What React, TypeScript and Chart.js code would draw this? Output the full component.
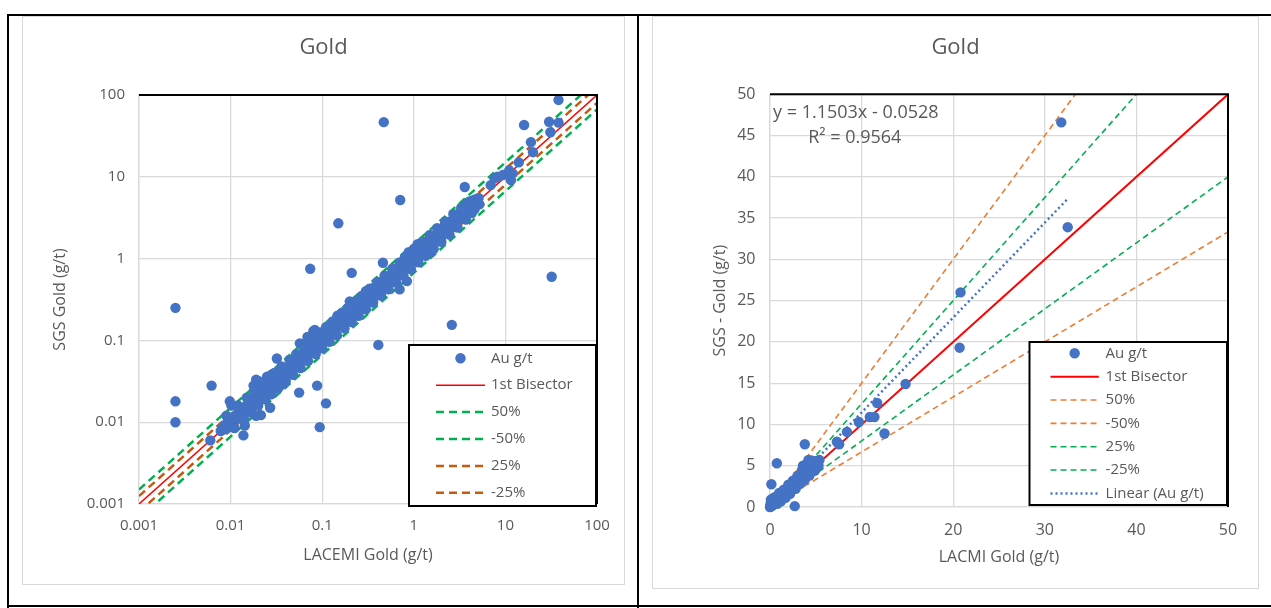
import React, { useEffect, useRef } from "react";
import { Chart, registerables } from "chart.js";

Chart.register(...registerables);

const FONT = "'Open Sans', 'Noto Sans', sans-serif";
const TEXT = "#595959";
const GRID = "#d9d9d9";
const BLUE = "#4472C4";

// ---------- Left chart (log-log) ----------
const logTicks = [0.001, 0.01, 0.1, 1, 10, 100];
const logTickLabels = ["0.001", "0.01", "0.1", "1", "10", "100"];

const logOutliers: number[][] = [
  [0.0025, 0.25], [0.0025, 0.018], [0.0025, 0.01], [0.0062, 0.028], [0.006, 0.006],
  [0.074, 0.75], [0.15, 2.7], [0.21, 0.67], [0.47, 46.6], [0.71, 5.2], [0.41, 0.088],
  [0.088, 0.028], [0.11, 0.017], [0.094, 0.0087], [0.056, 0.023], [0.0138, 0.0069],
  [0.0143, 0.0091], [2.6, 0.155], [32, 0.6], [16, 43], [3.6, 7.5], [0.7, 0.42],
  [0.84, 0.53], [0.46, 0.89], [0.032, 0.06], [0.083, 0.134], [0.027, 0.015],
  [0.019, 0.012], [0.0214, 0.0122], [0.0098, 0.018], [0.0102, 0.016],
];
const logLow: number[][] = [
  [0.0078, 0.0078], [0.0083, 0.0088], [0.0088, 0.0082], [0.009, 0.0095], [0.0095, 0.0101],
  [0.0098, 0.0092], [0.0102, 0.0108], [0.0106, 0.0112], [0.011, 0.0104], [0.0113, 0.0121],
  [0.0117, 0.0113], [0.012, 0.0128], [0.0125, 0.0119], [0.013, 0.0138], [0.0134, 0.0128],
  [0.0138, 0.0146], [0.0143, 0.0137], [0.0148, 0.0158], [0.0152, 0.0147], [0.0156, 0.0168],
  [0.016, 0.0155], [0.0165, 0.0178], [0.017, 0.016], [0.0174, 0.0196], [0.0178, 0.028],
  [0.018, 0.0172], [0.0185, 0.021], [0.019, 0.0186], [0.0195, 0.0235], [0.02, 0.032],
  [0.0202, 0.0196], [0.0207, 0.025], [0.021, 0.0214], [0.0215, 0.0198], [0.022, 0.027],
  [0.0225, 0.0235], [0.023, 0.021], [0.0235, 0.029], [0.024, 0.0245], [0.0245, 0.0225],
  [0.025, 0.036], [0.0255, 0.027], [0.026, 0.0255], [0.027, 0.031], [0.0275, 0.028],
  [0.028, 0.038], [0.029, 0.0275], [0.03, 0.033], [0.03, 0.03],
];
const logMid: number[][] = [
  [0.031, 0.034], [0.033, 0.031], [0.034, 0.037], [0.035, 0.043], [0.036, 0.035],
  [0.037, 0.04], [0.038, 0.045], [0.0375, 0.029], [0.04, 0.038], [0.041, 0.043],
  [0.043, 0.048], [0.044, 0.042], [0.046, 0.05], [0.047, 0.046], [0.049, 0.055],
  [0.05, 0.048], [0.052, 0.058], [0.053, 0.051], [0.055, 0.062], [0.056, 0.054],
  [0.058, 0.068], [0.059, 0.058], [0.06, 0.09], [0.061, 0.064], [0.063, 0.073],
  [0.064, 0.061], [0.066, 0.078], [0.067, 0.068], [0.069, 0.11], [0.07, 0.074],
  [0.072, 0.085], [0.073, 0.071], [0.075, 0.09], [0.077, 0.079], [0.079, 0.1],
  [0.08, 0.13], [0.081, 0.078], [0.083, 0.092], [0.085, 0.088], [0.088, 0.105],
  [0.09, 0.087], [0.092, 0.1], [0.095, 0.094], [0.097, 0.115], [0.057, 0.092],
  [0.019, 0.033], [0.029, 0.039],
];
const logHigh: number[][] = [
  [0.1, 0.1], [0.103, 0.118], [0.107, 0.104], [0.11, 0.13], [0.115, 0.112], [0.12, 0.14],
  [0.124, 0.12], [0.128, 0.15], [0.132, 0.13], [0.137, 0.16], [0.142, 0.138], [0.147, 0.2],
  [0.15, 0.155], [0.156, 0.18], [0.16, 0.158], [0.166, 0.22], [0.17, 0.17], [0.176, 0.2],
  [0.182, 0.18], [0.188, 0.24], [0.195, 0.195], [0.2, 0.3], [0.205, 0.22], [0.212, 0.205],
  [0.22, 0.26], [0.228, 0.23], [0.235, 0.3], [0.242, 0.24], [0.25, 0.28], [0.26, 0.255],
  [0.27, 0.32], [0.28, 0.275], [0.29, 0.31], [0.3, 0.4], [0.31, 0.3], [0.32, 0.35],
  [0.335, 0.33], [0.35, 0.4], [0.36, 0.36], [0.375, 0.45], [0.39, 0.38], [0.405, 0.44],
  [0.42, 0.41], [0.44, 0.5], [0.455, 0.45], [0.47, 0.55], [0.49, 0.48], [0.51, 0.56],
  [0.53, 0.52], [0.55, 0.62], [0.57, 0.56], [0.6, 0.68], [0.62, 0.61], [0.65, 0.74],
  [0.67, 0.66], [0.7, 0.8], [0.72, 0.72], [0.75, 0.9], [0.78, 0.78], [0.8, 1.05],
  [0.83, 0.84], [0.86, 0.8], [0.88, 1.2], [0.91, 0.95], [0.95, 0.93], [0.97, 1.1],
];
const logTop: number[][] = [
  [1.0, 1.3], [1.02, 1.0], [1.06, 1.12], [1.1, 1.5], [1.14, 1.1], [1.18, 1.3], [1.22, 1.2],
  [1.27, 1.45], [1.32, 1.6], [1.36, 1.3], [1.4, 1.45], [1.46, 1.7], [1.5, 1.4], [1.56, 1.2],
  [1.6, 1.65], [1.65, 1.55], [1.72, 1.85], [1.78, 1.75], [1.85, 2.05], [1.92, 1.85],
  [2.0, 2.25], [2.07, 2.0], [2.15, 2.5], [2.23, 2.2], [2.3, 2.7], [2.4, 2.4], [2.5, 2.85],
  [2.6, 2.6], [2.75, 3.1], [2.9, 2.9], [3.0, 3.4], [3.1, 3.1], [3.2, 3.7], [3.35, 3.3],
  [3.45, 4.0], [3.55, 3.5], [3.65, 4.5], [3.75, 3.9], [3.85, 4.8], [3.95, 4.2], [4.05, 5.0],
  [4.2, 4.5], [4.35, 5.1], [4.5, 4.6], [4.65, 5.3], [4.8, 4.9], [5.0, 5.0], [5.2, 4.6],
  [6.9, 7.9], [7.6, 9.6], [8.2, 10], [9.4, 10.5], [11, 12], [11.5, 9.1], [12, 11],
  [14, 15], [19, 26.5], [20, 20], [30, 47], [31, 35], [38, 46], [38, 87],
];
const logSpread: number[][] = [
  [0.009, 0.012], [0.011, 0.0085], [0.012, 0.016], [0.014, 0.011], [0.015, 0.02],
  [0.017, 0.013], [0.018, 0.024], [0.02, 0.016], [0.022, 0.03], [0.024, 0.019],
  [0.026, 0.034], [0.028, 0.022], [0.03, 0.04], [0.033, 0.026], [0.036, 0.048],
  [0.04, 0.032], [0.044, 0.058], [0.048, 0.038], [0.052, 0.068], [0.058, 0.046],
  [0.064, 0.085], [0.07, 0.056], [0.078, 0.1], [0.085, 0.068], [0.095, 0.125],
  [0.1, 0.08], [0.11, 0.145], [0.12, 0.096], [0.13, 0.17], [0.145, 0.115], [0.16, 0.21],
  [0.175, 0.14], [0.19, 0.25], [0.21, 0.168], [0.23, 0.3], [0.25, 0.2], [0.27, 0.35],
  [0.3, 0.24], [0.33, 0.43], [0.36, 0.29], [0.4, 0.52], [0.44, 0.35], [0.48, 0.62],
  [0.53, 0.42], [0.58, 0.75], [0.64, 0.51], [0.7, 0.9], [0.77, 0.62], [0.85, 1.1],
  [0.93, 0.74], [1.02, 1.32], [1.12, 0.9], [1.23, 1.6], [1.35, 1.08], [1.5, 1.95],
  [1.65, 1.32], [1.8, 2.35], [2.0, 1.6], [2.2, 2.85], [2.45, 1.96], [2.7, 3.5], [3.0, 2.4],
  [3.3, 4.2], [3.7, 3.0], [4.1, 4.4], [4.6, 4.0], [5.1, 5.5], [4.3, 3.6],
];
const logBisector: number[][] = [[0.001, 0.001], [100, 100]];
const logPlus50: number[][] = [[0.001, 0.0015], [100, 150]];
const logMinus50: number[][] = [[0.001, 0.000667], [100, 66.7]];
const logPlus25: number[][] = [[0.001, 0.00125], [100, 125]];
const logMinus25: number[][] = [[0.001, 0.0008], [100, 80]];

// ---------- Right chart (linear) ----------
const linCluster: number[][] = [
  [0, 0], [0.02, 0.05], [0.05, 0.02], [0.05, 0.3], [0.1, 0.1], [0.1, 0.6], [0.15, 0.2],
  [0.2, 0.8], [0.2, 0.15], [0.25, 0.3], [0.3, 0.4], [0.3, 0.2], [0.35, 0.5], [0.4, 0.35],
  [0.45, 0.6], [0.5, 0.45], [0.5, 0.8], [0.6, 0.55], [0.6, 0.9], [0.7, 0.7], [0.7, 1.0],
  [0.8, 0.75], [0.8, 1.1], [0.9, 0.9], [1.0, 1.2], [1.0, 0.9], [1.1, 1.1], [1.2, 1.4],
  [1.2, 1.0], [1.3, 1.3], [1.4, 1.6], [1.4, 1.2], [1.5, 1.5], [1.6, 1.8], [1.7, 1.6],
  [1.8, 2.0], [1.9, 1.8], [2.0, 2.2], [2.1, 2.0], [2.2, 2.5], [2.3, 2.3], [2.4, 2.7],
  [2.5, 2.5], [2.6, 3.0], [2.8, 2.9], [3.0, 3.3], [3.1, 3.1], [3.2, 3.6], [3.3, 3.4],
  [3.5, 3.9], [3.6, 3.6], [3.7, 4.3], [3.8, 4.0], [3.9, 4.8], [4.0, 4.4], [4.1, 5.0],
  [4.2, 4.6], [4.3, 5.2], [4.4, 4.5], [4.5, 5.1], [4.6, 4.8], [4.7, 5.3], [4.8, 5.0],
  [5.0, 5.5], [5.0, 4.9], [5.1, 5.2], [5.2, 5.6], [3.9, 5.1], [4.5, 5.6],
];
const linSpread: number[][] = [
  [0.1, 0.9], [0.3, 1.0], [0.5, 1.2], [0.8, 0.4], [1.0, 1.7], [1.2, 0.7], [1.5, 2.1],
  [1.7, 1.1], [2.0, 2.7], [2.2, 1.6], [2.5, 3.2], [2.8, 2.2], [3.0, 3.8], [3.3, 2.8],
  [3.5, 4.5], [3.8, 3.3], [4.0, 5.2], [4.3, 3.8], [4.6, 5.6], [4.9, 4.4], [5.3, 5.0],
  [5.4, 5.7], [3.6, 5.0], [4.2, 5.7],
];
const linOutliers: number[][] = [
  [0.15, 2.75], [0.75, 5.3], [2.7, 0.1], [3.8, 7.6], [7.3, 7.9], [7.55, 7.6], [8.4, 9.1],
  [9.7, 10.3], [10.9, 10.9], [11.4, 10.9], [11.7, 12.6], [12.5, 8.9], [14.8, 14.9],
  [20.7, 19.3], [20.8, 26.0], [32.5, 33.9], [31.8, 46.6],
];
const linBisector: number[][] = [[0, 0], [50, 50]];
const linPlus50: number[][] = [[0, 0], [50, 75]];
const linMinus50: number[][] = [[0, 0], [50, 33.33]];
const linPlus25: number[][] = [[0, 0], [50, 62.5]];
const linMinus25: number[][] = [[0, 0], [50, 40]];
const linTrend: number[][] = [[0.02, -0.03], [32.5, 37.33]];
const trendEquation = "y = 1.1503x - 0.0528";
const trendR2 = "R\u00B2 = 0.9564";

const toXY = (arr: number[][]) => arr.map(([x, y]) => ({ x, y }));

const boxLegendPlugin = {
  id: "boxLegend",
  afterDraw(chart: any, _a: any, opts: any) {
    if (!opts || !opts.x) return;
    const ctx = chart.ctx;
    ctx.save();
    ctx.fillStyle = "#ffffff";
    ctx.fillRect(opts.x, opts.y, opts.w, opts.h);
    ctx.lineWidth = 2;
    ctx.strokeStyle = "#000000";
    ctx.strokeRect(opts.x, opts.y, opts.w, opts.h);
    chart.data.datasets.forEach((ds: any, i: number) => {
      const cy = opts.row0 + i * opts.gap;
      if (ds.showLine) {
        ctx.beginPath();
        ctx.setLineDash(ds.borderDash || []);
        ctx.lineWidth = ds.borderWidth;
        ctx.strokeStyle = ds.borderColor;
        ctx.moveTo(opts.s0, cy);
        ctx.lineTo(opts.s1, cy);
        ctx.stroke();
        ctx.setLineDash([]);
      } else {
        ctx.beginPath();
        ctx.fillStyle = ds.backgroundColor;
        ctx.arc((opts.s0 + opts.s1) / 2, cy, 5.2, 0, Math.PI * 2);
        ctx.fill();
      }
      ctx.fillStyle = TEXT;
      ctx.font = `15px ${FONT}`;
      ctx.textBaseline = "middle";
      ctx.textAlign = "left";
      ctx.fillText(ds.label, opts.tx, cy);
    });
    ctx.restore();
  },
};

const frameTextPlugin = {
  id: "frameText",
  afterDatasetsDraw(chart: any, _a: any, opts: any) {
    const { left, right, top } = chart.chartArea;
    const ctx = chart.ctx;
    ctx.save();
    ctx.strokeStyle = "#000000";
    ctx.lineWidth = 2;
    ctx.beginPath();
    ctx.moveTo(left, top);
    ctx.lineTo(right, top);
    ctx.lineTo(right, chart.chartArea.bottom);
    ctx.stroke();
    if (opts && opts.texts) {
      ctx.fillStyle = TEXT;
      ctx.font = `18px ${FONT}`;
      ctx.textBaseline = "middle";
      ctx.textAlign = "left";
      opts.texts.forEach((t: any) => ctx.fillText(t.text, t.x, t.y));
    }
    ctx.restore();
  },
};

const lineDs = (label: string, data: number[][], color: string, width: number, dash: number[]) => ({
  label,
  data: toXY(data),
  showLine: true,
  borderColor: color,
  backgroundColor: color,
  borderWidth: width,
  borderDash: dash,
  pointRadius: 0,
  pointHoverRadius: 0,
  fill: false,
});

const axisCommon = () => ({
  grid: { color: GRID, lineWidth: 1.3, drawTicks: false },
  border: { color: GRID, width: 1.3 },
});

function leftConfig(): any {
  return {
    type: "scatter",
    data: {
      datasets: [
        {
          label: "Au g/t",
          data: toXY([...logLow, ...logMid, ...logHigh, ...logTop, ...logSpread, ...logOutliers]),
          backgroundColor: BLUE,
          borderColor: BLUE,
          pointRadius: 5.2,
          pointHoverRadius: 5.2,
          pointBorderWidth: 0,
          showLine: false,
          clip: false,
        },
        lineDs("1st Bisector", logBisector, "#FF0000", 1.5, []),
        lineDs("50%", logPlus50, "#00B050", 2.5, [8, 5]),
        lineDs("-50%", logMinus50, "#00B050", 2.5, [8, 5]),
        lineDs("25%", logPlus25, "#C55A11", 2.5, [8, 5]),
        lineDs("-25%", logMinus25, "#C55A11", 2.5, [8, 5]),
      ],
    },
    options: {
      responsive: false,
      animation: false,
      events: [],
      layout: { padding: { left: 28, right: 28, top: 18.5, bottom: 10 } },
      plugins: {
        legend: { display: false },
        tooltip: { enabled: false },
        title: {
          display: true,
          text: "Gold",
          color: TEXT,
          font: { family: FONT, size: 22, weight: "normal" },
          padding: { top: 0, bottom: 34.1 },
        },
        boxLegend: { x: 387, y: 329, w: 187, h: 161, row0: 342.3, gap: 26.9, s0: 414, s1: 463, tx: 469 },
        frameText: {},
      },
      scales: {
        x: {
          type: "logarithmic",
          min: 0.001,
          max: 100,
          ...axisCommon(),
          afterBuildTicks: (s: any) => {
            s.ticks = logTicks.map((v) => ({ value: v }));
          },
          afterFit: (s: any) => {
            s.height = 71;
          },
          ticks: {
            padding: 13,
            color: TEXT,
            font: { family: FONT, size: 15 },
            maxRotation: 0,
            autoSkip: false,
            callback: (v: number) => logTickLabels[logTicks.indexOf(v)] ?? "",
          },
          title: {
            display: true,
            text: "LACEMI Gold (g/t)",
            color: TEXT,
            font: { family: FONT, size: 16 },
            padding: { top: 0, bottom: 9.9 },
          },
        },
        y: {
          type: "logarithmic",
          min: 0.001,
          max: 100,
          ...axisCommon(),
          afterBuildTicks: (s: any) => {
            s.ticks = logTicks.map((v) => ({ value: v }));
          },
          afterFit: (s: any) => {
            s.width = 89;
          },
          ticks: {
            padding: 14,
            color: TEXT,
            font: { family: FONT, size: 15 },
            autoSkip: false,
            callback: (v: number) => logTickLabels[logTicks.indexOf(v)] ?? "",
          },
          title: {
            display: true,
            text: "SGS Gold (g/t)",
            color: TEXT,
            font: { family: FONT, size: 16 },
            padding: { top: 0.4, bottom: 0 },
          },
        },
      },
    },
    plugins: [frameTextPlugin, boxLegendPlugin],
  };
}

function rightConfig(): any {
  return {
    type: "scatter",
    data: {
      datasets: [
        {
          label: "Au g/t",
          data: toXY([...linCluster, ...linSpread, ...linOutliers]),
          backgroundColor: BLUE,
          borderColor: BLUE,
          pointRadius: 5.2,
          pointHoverRadius: 5.2,
          pointBorderWidth: 0,
          showLine: false,
          clip: false,
        },
        lineDs("1st Bisector", linBisector, "#FF0000", 2, []),
        lineDs("50%", linPlus50, "#ED7D31", 1.6, [6, 4]),
        lineDs("-50%", linMinus50, "#ED7D31", 1.6, [6, 4]),
        lineDs("25%", linPlus25, "#00B050", 1.6, [6, 4]),
        lineDs("-25%", linMinus25, "#00B050", 1.6, [6, 4]),
        lineDs("Linear (Au g/t)", linTrend, BLUE, 2.5, [2, 3]),
      ],
    },
    options: {
      responsive: false,
      animation: false,
      events: [],
      layout: { padding: { left: 31, right: 31, top: 18.5, bottom: 10 } },
      plugins: {
        legend: { display: false },
        tooltip: { enabled: false },
        title: {
          display: true,
          text: "Gold",
          color: TEXT,
          font: { family: FONT, size: 22, weight: "normal" },
          padding: { top: 0, bottom: 33.4 },
        },
        boxLegend: { x: 377.5, y: 326, w: 197.5, h: 163, row0: 337.3, gap: 23.35, s0: 398.5, s1: 446.8, tx: 453.6 },
        frameText: {
          texts: [
            { text: trendEquation, x: 121, y: 96.7 },
            { text: trendR2, x: 156.2, y: 121.5 },
          ],
        },
      },
      scales: {
        x: {
          type: "linear",
          min: 0,
          max: 50,
          ...axisCommon(),
          afterFit: (s: any) => {
            s.height = 72;
          },
          ticks: {
            stepSize: 10,
            padding: 13.4,
            color: TEXT,
            font: { family: FONT, size: 16 },
            maxRotation: 0,
          },
          title: {
            display: true,
            text: "LACMI Gold (g/t)",
            color: TEXT,
            font: { family: FONT, size: 16 },
            padding: { top: 0, bottom: 11.9 },
          },
        },
        y: {
          type: "linear",
          min: 0,
          max: 50,
          ...axisCommon(),
          afterFit: (s: any) => {
            s.width = 87;
          },
          ticks: {
            stepSize: 5,
            padding: 14.5,
            color: TEXT,
            font: { family: FONT, size: 16 },
          },
          title: {
            display: true,
            text: "SGS - Gold (g/t)",
            color: TEXT,
            font: { family: FONT, size: 16 },
            padding: { top: 27.4, bottom: 0 },
          },
        },
      },
    },
    plugins: [frameTextPlugin, boxLegendPlugin],
  };
}

function ChartCanvas({ make, left, top, width, height }: any) {
  const ref = useRef<HTMLCanvasElement | null>(null);
  useEffect(() => {
    if (!ref.current) return;
    const c = new Chart(ref.current, make());
    return () => c.destroy();
  }, []);
  return (
    <canvas
      ref={ref}
      width={width}
      height={height}
      style={{ position: "absolute", left, top, width, height }}
    />
  );
}

const line = (left: number, top: number, width: number, height: number) => (
  <div style={{ position: "absolute", left, top, width, height, background: "#000" }} />
);

const box = (left: number, top: number, width: number, height: number) => (
  <div
    style={{
      position: "absolute",
      left,
      top,
      width,
      height,
      boxSizing: "border-box",
      border: `1px solid ${GRID}`,
      background: "#fff",
    }}
  />
);

export default function App() {
  return (
    <div
      style={{
        position: "fixed",
        left: 0,
        top: 0,
        width: 1271,
        height: 608,
        background: "#fff",
        overflow: "hidden",
      }}
    >
      {box(22, 16, 603, 569)}
      {box(652, 16, 607, 573)}
      <ChartCanvas make={leftConfig} left={22} top={16} width={603} height={569} />
      <ChartCanvas make={rightConfig} left={652} top={16} width={607} height={573} />
      {line(7, 14, 1264, 2)}
      {line(7, 14, 2, 594)}
      {line(637, 14, 2, 594)}
      {line(7, 605, 1264, 2)}
    </div>
  );
}
